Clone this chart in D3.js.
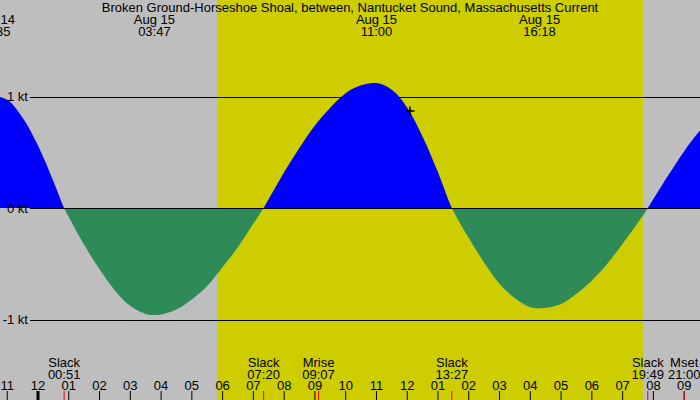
<!DOCTYPE html>
<html>
<head>
<meta charset="utf-8">
<script src="https://cdn.jsdelivr.net/npm/d3@7"></script>
<style>
  body { margin: 0; background: #fff; }
  svg text { font-family: "Liberation Sans", Arial, sans-serif; font-size: 13px; fill: #000; }
</style>
</head>
<body>
<div id="chart"></div>
<script>
// Hours from midnight Aug 15 (negative = Aug 14), current speed in knots
const hours = [-1.5, -1, -0.5, 0, 0.5, 0.85, 1, 1.5, 2, 2.5, 3, 3.5, 3.78, 4, 4.5, 5, 5.5, 6, 6.5, 7, 7.33,
  7.5, 8, 8.5, 9, 9.5, 10, 10.5, 11, 11.5, 12, 12.5, 13, 13.45, 14, 14.5, 15, 15.5, 16, 16.3, 17,
  17.5, 18, 18.5, 19, 19.5, 19.82, 20, 20.5, 21, 21.5, 22];
const knots = [1.01, 0.97, 0.81, 0.56, 0.24, 0, -0.08, -0.33, -0.55, -0.74, -0.88, -0.95, -0.96, -0.955, -0.91, -0.82, -0.70, -0.53, -0.35, -0.14, 0,
  0.08, 0.32, 0.54, 0.74, 0.90, 1.03, 1.10, 1.12, 1.06, 0.90, 0.64, 0.32, 0, -0.27, -0.49, -0.68, -0.81, -0.89, -0.90, -0.86,
  -0.77, -0.65, -0.50, -0.32, -0.13, 0, 0.08, 0.30, 0.51, 0.69, 0.83];

// Max flood / max ebb labels along the top
const peakHours = [-1.42, 3.783, 11.0, 16.3];
const peakDates = ["Aug 14", "Aug 15", "Aug 15", "Aug 15"];
const peakTimes = ["22:35", "03:47", "11:00", "16:18"];

// Slack / moon events along the bottom
const eventHours = [0.85, 7.333, 9.117, 13.45, 19.817, 21.0];
const eventNames = ["Slack", "Slack", "Mrise", "Slack", "Slack", "Mset"];
const eventTimes = ["00:51", "07:20", "09:07", "13:27", "19:49", "21:00"];

// Daylight span (sunrise, sunset)
const daylight = [5.83, 19.66];

const levels = [1, 0, -1];
const levelLabels = ["1 kt", "0 kt", "-1 kt"];

const hourTicks = d3.range(-1, 22);
const nowMark = {hour: 12.09, knots: 0.87};

const width = 700, height = 400;

const svg = d3.select("#chart")
  .append("svg")
    .attr("width", width)
    .attr("height", height);

const x = d3.scaleLinear().domain([-38 / 30.77, (700 - 38) / 30.77]).range([0, width]);
const y = d3.scaleLinear().domain([-1, 1]).range([319.5, 96.5]);

// Night background and daylight band
svg.append("rect").attr("width", width).attr("height", height).attr("fill", "#bebebe");
svg.append("rect")
  .attr("x", x(daylight[0]))
  .attr("width", x(daylight[1]) - x(daylight[0]))
  .attr("height", height)
  .attr("fill", "#cdcd00");

// Level lines
svg.selectAll(".level")
  .data(levels.filter(d => d !== 0))
  .join("line")
    .attr("x1", 30).attr("x2", width)
    .attr("y1", d => Math.round(y(d)) + 0.5).attr("y2", d => Math.round(y(d)) + 0.5)
    .attr("stroke", "#000");

// Current area, split at zero into flood (blue) and ebb (green)
const pts = hours.map((h, i) => [h, knots[i]]);
const zeroY = y(0);
const area = d3.area()
  .x(d => x(d[0]))
  .y0(zeroY)
  .y1(d => y(d[1]))
  .curve(d3.curveCatmullRom);

const defs = svg.append("defs");
defs.append("clipPath").attr("id", "above")
  .append("rect").attr("x", 0).attr("y", 0).attr("width", width).attr("height", zeroY);
defs.append("clipPath").attr("id", "below")
  .append("rect").attr("x", 0).attr("y", zeroY).attr("width", width).attr("height", height - zeroY);

svg.append("path").datum(pts).attr("d", area).attr("fill", "#0000ff").attr("clip-path", "url(#above)");
svg.append("path").datum(pts).attr("d", area).attr("fill", "#2e8b57").attr("clip-path", "url(#below)");

svg.append("line")
  .attr("x1", 30).attr("x2", width)
  .attr("y1", Math.round(zeroY) + 0.5).attr("y2", Math.round(zeroY) + 0.5)
  .attr("stroke", "#000");

// Level labels
svg.selectAll(".lvl")
  .data(levels)
  .join("text")
    .attr("x", 28)
    .attr("y", d => y(d) + 4.5)
    .attr("text-anchor", "end")
    .text((d, i) => levelLabels[i]);

// Title
svg.append("text")
  .attr("x", width / 2).attr("y", 11.5)
  .attr("text-anchor", "middle")
  .text("Broken Ground-Horseshoe Shoal, between, Nantucket Sound, Massachusetts Current");

// Peak labels
const peaks = svg.selectAll(".peak")
  .data(peakHours)
  .join("g")
    .attr("transform", d => `translate(${x(d)},0)`);
peaks.append("text").attr("y", 23.5).attr("text-anchor", "middle").text((d, i) => peakDates[i]);
peaks.append("text").attr("y", 36).attr("text-anchor", "middle").text((d, i) => peakTimes[i]);

// Now marker
svg.append("path")
  .attr("d", `M${x(nowMark.hour) - 4.5},${y(nowMark.knots)}h9M${x(nowMark.hour)},${y(nowMark.knots) - 4.5}v9`)
  .attr("stroke", "#000")
  .attr("stroke-width", 1.5);

// Hour axis at the bottom
const axis = svg.append("g");
axis.selectAll("line")
  .data(hourTicks)
  .join("line")
    .attr("x1", d => x(d)).attr("x2", d => x(d))
    .attr("y1", 391).attr("y2", height)
    .attr("stroke", "#000")
    .attr("stroke-width", d => d === 0 ? 3 : 1);
axis.selectAll("text")
  .data(hourTicks)
  .join("text")
    .attr("x", d => x(d))
    .attr("y", 389.5)
    .attr("text-anchor", "middle")
    .text(d => d3.format("02")(((d % 12) + 12) % 12 || 12));

// Events
svg.selectAll(".evtick")
  .data(eventHours)
  .join("line")
    .attr("x1", d => x(d)).attr("x2", d => x(d))
    .attr("y1", 391).attr("y2", height)
    .attr("stroke", "#ff0000");
const ev = svg.selectAll(".ev")
  .data(eventHours)
  .join("g")
    .attr("transform", d => `translate(${x(d)},0)`);
ev.append("text").attr("y", 366.5).attr("text-anchor", "middle").text((d, i) => eventNames[i]);
ev.append("text").attr("y", 378.5).attr("text-anchor", "middle").text((d, i) => eventTimes[i]);
</script>
</body>
</html>
